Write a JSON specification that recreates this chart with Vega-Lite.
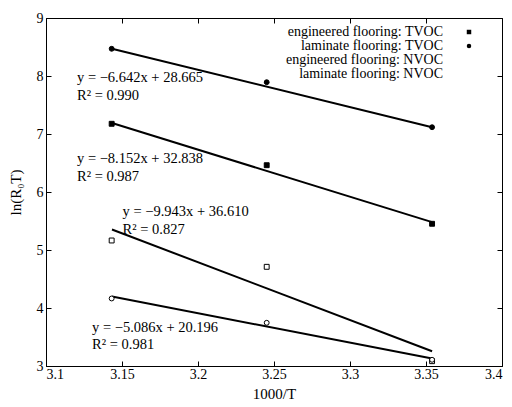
{
  "$schema": "https://vega.github.io/schema/vega-lite/v6.json",
  "width": 456,
  "height": 348,
  "autosize": {"type": "none"},
  "padding": {"left": 46, "top": 18, "right": 10, "bottom": 41},
  "config": {
    "view": {"stroke": "black", "strokeWidth": 1},
    "font": "Liberation Serif",
    "axis": {
      "domainColor": "black", "tickColor": "black", "labelColor": "black", "titleColor": "black",
      "grid": false, "labelFont": "Liberation Serif", "titleFont": "Liberation Serif",
      "labelFontSize": 14, "titleFontSize": 15, "titleFontWeight": "normal",
      "tickSize": -5, "labelPadding": 8
    },
    "legend": {
      "labelFont": "Liberation Serif", "labelFontSize": 14, "labelColor": "black", "labelLimit": 0,
      "padding": 0, "rowPadding": 0, "symbolSize": 20, "symbolStrokeColor": "black", "symbolStrokeWidth": 1
    }
  },
  "layer": [
    {
      "data": {"values": [
        {"fit": "lamT", "x": 3.1434, "y": 8.47}, {"fit": "lamT", "x": 3.354, "y": 7.117},
        {"fit": "engT", "x": 3.1434, "y": 7.19}, {"fit": "engT", "x": 3.354, "y": 5.48},
        {"fit": "engN", "x": 3.1434, "y": 5.353}, {"fit": "engN", "x": 3.354, "y": 3.255},
        {"fit": "lamN", "x": 3.1434, "y": 4.198}, {"fit": "lamN", "x": 3.354, "y": 3.129}
      ]},
      "mark": {"type": "line", "color": "black", "strokeWidth": 2},
      "encoding": {
        "x": {"field": "x", "type": "quantitative", "scale": {"domain": [3.1, 3.4], "nice": false},
              "axis": {"orient": "bottom", "values": [3.1, 3.15, 3.2, 3.25, 3.3, 3.35, 3.4], "format": ".3~f", "title": "1000/T", "labelPadding": 6, "titlePadding": 5}},
        "y": {"field": "y", "type": "quantitative", "scale": {"domain": [3, 9], "nice": false},
              "axis": {"orient": "left", "values": [3, 4, 5, 6, 7, 8, 9], "format": "d", "title": "ln(R₀T)", "titlePadding": 13}},
        "detail": {"field": "fit"}
      }
    },
    {
      "data": {"values": [
        {"series": "engineered flooring: TVOC", "x": 3.1432, "y": 7.176},
        {"series": "engineered flooring: TVOC", "x": 3.2452, "y": 6.462},
        {"series": "engineered flooring: TVOC", "x": 3.354, "y": 5.452},
        {"series": "laminate flooring: TVOC", "x": 3.1432, "y": 8.469},
        {"series": "laminate flooring: TVOC", "x": 3.2452, "y": 7.893},
        {"series": "laminate flooring: TVOC", "x": 3.354, "y": 7.117},
        {"series": "engineered flooring: NVOC", "x": 3.1432, "y": 5.164},
        {"series": "engineered flooring: NVOC", "x": 3.2452, "y": 4.71},
        {"series": "engineered flooring: NVOC", "x": 3.354, "y": 3.083},
        {"series": "laminate flooring: NVOC", "x": 3.1432, "y": 4.164},
        {"series": "laminate flooring: NVOC", "x": 3.2452, "y": 3.745},
        {"series": "laminate flooring: NVOC", "x": 3.354, "y": 3.107}
      ]},
      "mark": {"type": "point", "stroke": "black", "strokeWidth": 1, "opacity": 1, "size": 24},
      "encoding": {
        "x": {"field": "x", "type": "quantitative",
              "axis": {"orient": "top", "values": [3.1, 3.15, 3.2, 3.25, 3.3, 3.35, 3.4], "labels": false, "title": null, "domain": false}},
        "y": {"field": "y", "type": "quantitative",
              "axis": {"orient": "right", "values": [3, 4, 5, 6, 7, 8, 9], "labels": false, "title": null, "domain": false}},
        "shape": {"field": "series", "type": "nominal",
                  "scale": {"domain": ["engineered flooring: TVOC", "laminate flooring: TVOC", "engineered flooring: NVOC", "laminate flooring: NVOC"], "range": ["square", "circle", "square", "circle"]},
                  "legend": {"orient": "none", "legendX": 416, "legendY": 7, "title": null, "labelAlign": "right", "labelOffset": -33,
                             "encode": {"symbols": {"update": {"stroke": {"value": "black"}, "strokeWidth": {"value": 1}, "opacity": {"value": 1}}}}}},
        "fill": {"field": "series", "type": "nominal",
                 "scale": {"domain": ["engineered flooring: TVOC", "laminate flooring: TVOC", "engineered flooring: NVOC", "laminate flooring: NVOC"], "range": ["black", "black", "white", "white"]},
                 "legend": {"orient": "none", "legendX": 416, "legendY": 7, "title": null, "labelAlign": "right", "labelOffset": -33,
                            "encode": {"symbols": {"update": {"stroke": {"value": "black"}, "strokeWidth": {"value": 1}, "opacity": {"value": 1}}}}}}
      }
    },
    {
      "data": {"values": [
        {"label": "y = −6.642x + 28.665", "x": 3.1204, "y": 7.957},
        {"label": "R² = 0.990", "x": 3.1204, "y": 7.652},
        {"label": "y = −8.152x + 32.838", "x": 3.1204, "y": 6.566},
        {"label": "R² = 0.987", "x": 3.1204, "y": 6.255},
        {"label": "y = −9.943x + 36.610", "x": 3.1504, "y": 5.658},
        {"label": "R² = 0.827", "x": 3.1504, "y": 5.353},
        {"label": "y = −5.086x + 20.196", "x": 3.1303, "y": 3.659},
        {"label": "R² = 0.981", "x": 3.1303, "y": 3.359}
      ]},
      "mark": {"type": "text", "align": "left", "baseline": "middle", "fontSize": 14.5, "font": "Liberation Serif", "color": "black"},
      "encoding": {
        "x": {"field": "x", "type": "quantitative", "axis": null},
        "y": {"field": "y", "type": "quantitative", "axis": null},
        "text": {"field": "label"}
      }
    }
  ],
  "resolve": {"axis": {"x": "independent", "y": "independent"}}
}
